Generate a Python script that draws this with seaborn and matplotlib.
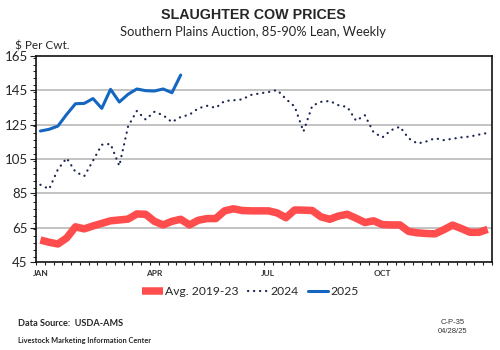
import matplotlib
matplotlib.use("Agg")
import matplotlib.pyplot as plt
from matplotlib.ticker import MultipleLocator, FixedLocator
import seaborn as sns
import pandas as pd
import numpy as np

weeks = list(range(1, 53))
avg_2019_23 = [57.8, 56.5, 55.5, 59, 65.5, 64.3, 66, 67.5, 69, 69.5,
               70, 73, 72.8, 68.7, 66.6, 68.7, 69.9, 66.6, 69.3, 70.3,
               70.3, 74.8, 76, 75, 74.8, 74.8, 74.8, 73.6, 70.8, 75.3,
               75.2, 75, 71.3, 69.9, 71.8, 72.8, 70.5, 68, 69, 66.8,
               66.6, 66.6, 62.8, 62, 61.6, 61.4, 63.8, 66.5, 64.5, 62.3,
               62.3, 64]
y2024 = [90, 87.5, 99, 105.5, 97.5, 95, 104, 113.3, 113.8, 101,
         124, 133, 128, 132.5, 130.5, 126.5, 129.5, 130.8, 134.5, 136,
         134.8, 138.8, 139.2, 139.7, 142.3, 143.2, 144, 145.2, 140, 135.5,
         121, 136, 138.3, 138.8, 136.3, 135.3, 127.3, 130.5, 120.5, 117.6,
         121.8, 123.8, 117, 114, 115.2, 117.1, 116, 116.8, 117.6, 118.1,
         119.2, 120.2]
y2025 = [121.3, 122.3, 124.2, 131, 137.2, 137.4, 140.2, 134.5, 145.6, 138.2,
         142.7, 145.8, 144.8, 144.6, 145.8, 143.6, 153.9]
month_labels = ["JAN", "APR", "JUL", "OCT"]
month_weeks = [1, 14, 27, 40]
y_ticks = [45, 65, 85, 105, 125, 145, 165]

df = pd.concat([
    pd.DataFrame({"week": weeks, "price": avg_2019_23, "series": "Avg. 2019-23"}),
    pd.DataFrame({"week": weeks, "price": y2024, "series": "2024"}),
    pd.DataFrame({"week": weeks[:len(y2025)], "price": y2025, "series": "2025"}),
])

sns.set_style("white")
plt.rcParams['font.family'] = ['Lato', 'DejaVu Sans']

fig = plt.figure(figsize=(5, 3.5), dpi=100)
ax = fig.add_axes([0.072, 0.2514, 0.912, 0.5886])

red = "#FF4D4D"
navy = "#1B2552"
blue = "#1466C0"

sns.lineplot(data=df[df.series == "Avg. 2019-23"], x="week", y="price", ax=ax,
             color=red, linewidth=5.4, solid_joinstyle="round", solid_capstyle="butt",
             label="Avg. 2019-23", zorder=3)
sns.lineplot(data=df[df.series == "2024"], x="week", y="price", ax=ax,
             color=navy, linewidth=1.6, linestyle=(0, (0.1, 2.6)),
             dash_capstyle="round", label="2024", zorder=4)
sns.lineplot(data=df[df.series == "2025"], x="week", y="price", ax=ax,
             color=blue, linewidth=2.2, solid_joinstyle="round", label="2025", zorder=5)

ax.set_xlim(0.5, 52.5)
ax.set_ylim(45, 165)
ax.set_yticks(y_ticks)
ax.yaxis.set_minor_locator(MultipleLocator(4))
ax.set_xticks(month_weeks)
ax.set_xticklabels(month_labels)
ax.xaxis.set_minor_locator(FixedLocator(np.arange(0.5, 53, 1)))
ax.tick_params(axis="x", which="major", length=0, pad=6, labelsize=6)
for lbl in ax.get_xticklabels():
    lbl.set_fontweight("bold")
    lbl.set_color("#333333")
ax.tick_params(axis="x", which="minor", length=2.5, width=0.8, color="#222222", direction="out", bottom=True)
ax.tick_params(axis="y", which="major", length=4, width=0.8, color="#222222", labelsize=9.5, pad=2, left=True)
ax.tick_params(axis="y", which="minor", length=2, width=0.7, color="#222222", left=True)
ax.set_xlabel("")
ax.set_ylabel("")
for g in [65, 85, 105, 125, 145]:
    ax.axhline(g, color="#BEBEBE", linewidth=1.3, zorder=1)
for s in ax.spines.values():
    s.set_color("#111111")
    s.set_linewidth(1.2)

leg = ax.legend(loc="upper center", bbox_to_anchor=(0.47, -0.065), ncol=3, frameon=False,
                fontsize=8.7, handlelength=1.7, handletextpad=0.15, columnspacing=0.8)

fig.text(0.506, 0.957, "SLAUGHTER COW PRICES", ha="center", va="center",
         fontsize=10.3, fontweight="bold", family=["Liberation Sans", "DejaVu Sans"])
fig.text(0.506, 0.91, "Southern Plains Auction, 85-90% Lean, Weekly", ha="center",
         va="center", fontsize=9.3)
fig.text(0.03, 0.868, "$ Per Cwt.", ha="left", va="center", fontsize=8.5)
fig.text(0.035, 0.077, "Data Source:  USDA-AMS", ha="left", va="center",
         fontsize=6.6, fontweight="bold")
fig.text(0.035, 0.028, "Livestock Marketing Information Center", ha="left",
         va="center", fontsize=5.3, fontweight="bold")
fig.text(0.905, 0.08, "C-P-35", ha="center", va="center", fontsize=5.5,
         family=["Liberation Sans", "DejaVu Sans"], color="#333333")
fig.text(0.905, 0.052, "04/28/25", ha="center", va="center", fontsize=5.5,
         family=["Liberation Sans", "DejaVu Sans"], color="#333333")

fig.savefig("out.png", dpi=100)
